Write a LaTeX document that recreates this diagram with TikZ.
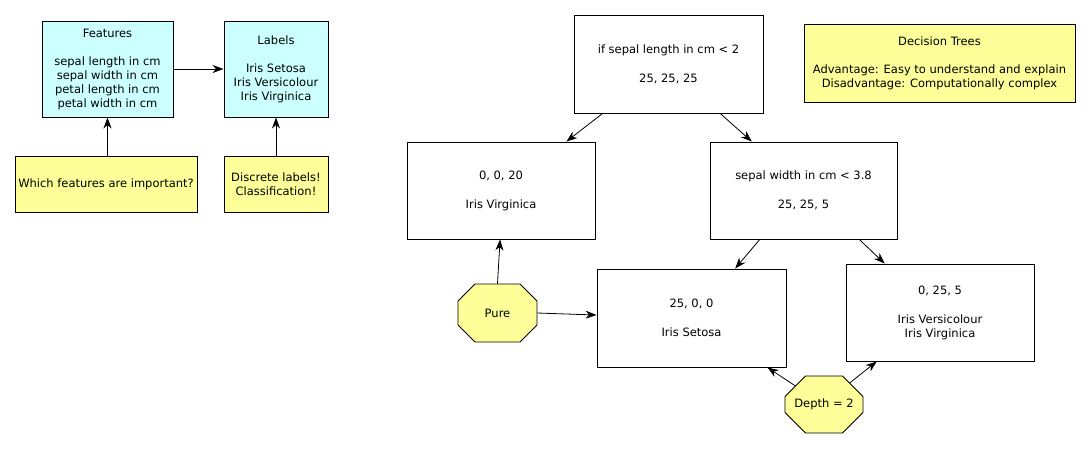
\documentclass[tikz,border=0pt]{standalone}
\usepackage{fontspec}
\setmainfont{DejaVu Sans}
\usetikzlibrary{arrows.meta,calc,shapes.misc}
\definecolor{cyanbox}{HTML}{CCFFFF}
\definecolor{yellowbox}{HTML}{FFFF99}
\begin{document}
\begin{tikzpicture}[x=1pt,y=-1pt,
  every node/.style={font=\fontsize{11.5}{14}\selectfont, align=center, inner sep=0pt},
  box/.style={draw, line width=0.9pt, rectangle},
  cyanb/.style={box, fill=cyanbox},
  yelb/.style={box, fill=yellowbox},
  treeb/.style={box, fill=white, minimum width=188pt, minimum height=97pt},
  octo/.style={draw, line width=0.9pt, fill=yellowbox, chamfered rectangle,
    chamfered rectangle xsep=22pt, chamfered rectangle ysep=15pt},
  conn/.style={-{Stealth[length=11pt,width=8pt,inset=3.5pt]}, line width=0.8pt}
]
\useasboundingbox (0,0) rectangle (1091,448);

% left part
\node[cyanb, minimum width=131pt, minimum height=96pt] (feat) at (107.5,69)
  {Features\\[14pt]sepal length in cm\\sepal width in cm\\petal length in cm\\petal width in cm};
\node[cyanb, minimum width=104pt, minimum height=96pt] (lab) at (276,69)
  {Labels\\[14pt]Iris Setosa\\Iris Versicolour\\Iris Virginica};
\node[yelb, minimum width=182pt, minimum height=56pt] (which) at (106,184)
  {Which features are important?};
\node[yelb, minimum width=104pt, minimum height=56pt] (disc) at (276,184)
  {Discrete labels!\\Classification!};

\draw[conn] (feat.east) -- (lab.west);
\draw[conn] (which.north -| feat.south) -- (feat.south);
\draw[conn] (disc.north) -- (lab.south);

% tree
\node[treeb, minimum width=189pt, minimum height=98pt] (root) at (668.5,64)
  {if sepal length in cm < 2\\[15pt]25, 25, 25};
\node[yelb, minimum width=271pt, minimum height=78pt] (dt) at (939.5,63)
  {Decision Trees\\[14pt]Advantage: Easy to understand and explain\\Disadvantage: Computationally complex};
\node[treeb] (lc) at (501,190.5) {0, 0, 20\\[15pt]Iris Virginica};
\node[treeb, minimum width=187pt] (sw) at (803.5,190.5)
  {sepal width in cm < 3.8\\[15pt]25, 25, 5};
\node[treeb, minimum width=189pt, minimum height=98pt] (set) at (691.5,318)
  {25, 0, 0\\[15pt]Iris Setosa};
\node[treeb, minimum height=97pt] (rb) at (940,312.5)
  {0, 25, 5\\[15pt]Iris Versicolour\\Iris Virginica};
\node[octo, minimum width=79pt, minimum height=58pt] (pure) at (497.5,313) {Pure};
\node[octo, minimum width=78pt, minimum height=57pt] (depth) at (824,404.5) {Depth = 2};

\draw[conn] ($(root.south west)!0.153!(root.south east)$) -- ($(lc.north west)!0.846!(lc.north east)$);
\draw[conn] ($(root.south west)!0.772!(root.south east)$) -- ($(sw.north west)!0.225!(sw.north east)$);
\draw[conn] ($(sw.south west)!0.267!(sw.south east)$) -- ($(set.north west)!0.73!(set.north east)$);
\draw[conn] ($(sw.south west)!0.797!(sw.south east)$) -- ($(rb.north west)!0.207!(rb.north east)$);
\draw[conn] (pure.north) -- ($(lc.south west)!0.495!(lc.south east)$);
\draw[conn] (pure.east) -- ($(set.north west)!0.47!(set.south west)$);
\draw[conn] (depth.147) -- ($(set.south west)!0.9!(set.south east)$);
\draw[conn] (depth.40) -- ($(rb.south west)!0.165!(rb.south east)$);
\end{tikzpicture}
\end{document}
